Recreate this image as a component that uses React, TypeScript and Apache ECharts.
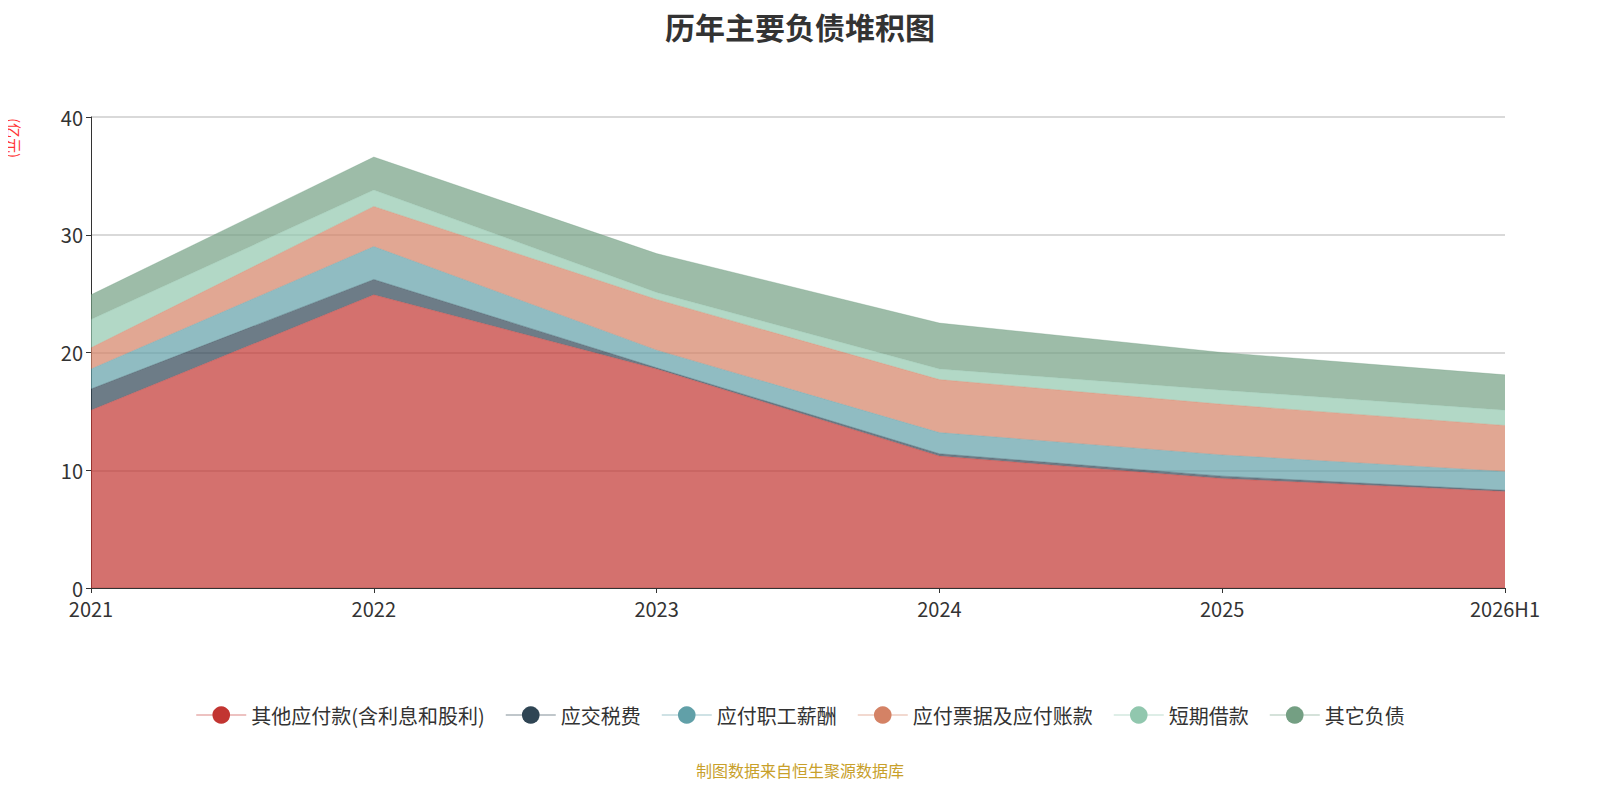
import React, { useEffect, useRef } from 'react';
import * as echarts from 'echarts';

const years = ['2021', '2022', '2023', '2024', '2025', '2026H1'];
const seriesNames = ['其他应付款(含利息和股利)', '应交税费', '应付职工薪酬', '应付票据及应付账款', '短期借款', '其它负债'];
const colors = ['#c23531', '#2f4554', '#61a0a8', '#d48265', '#91c7ae', '#749f83'];
const otherPayables = [15.1, 24.9, 18.6, 11.2, 9.3, 8.2];
const taxes = [1.8, 1.3, 0.1, 0.2, 0.2, 0.1];
const salaries = [1.7, 2.8, 1.5, 1.8, 1.8, 1.6];
const notesPayable = [1.8, 3.4, 4.3, 4.5, 4.3, 3.9];
const shortLoans = [2.4, 1.4, 0.6, 0.9, 1.2, 1.3];
const otherLiabilities = [2.1, 2.8, 3.3, 3.9, 3.2, 3.0];
const allData = [otherPayables, taxes, salaries, notesPayable, shortLoans, otherLiabilities];

const FONT = '"Noto Sans CJK SC", "Noto Sans", sans-serif';

const App: React.FC = () => {
  const ref = useRef<HTMLDivElement>(null);

  useEffect(() => {
    if (!ref.current) return;
    const chart = echarts.init(ref.current, null, { renderer: 'svg' });
    chart.setOption({
      animation: false,
      color: colors,
      textStyle: { fontFamily: FONT },
      title: {
        text: '历年主要负债堆积图',
        left: 'center',
        top: -2,
        textStyle: { fontSize: 30, fontWeight: 'bold', color: '#333', fontFamily: FONT },
      },
      grid: { left: 83, right: 87, top: 109, bottom: 204 },
      legend: {
        top: 692,
        itemWidth: 50,
        itemHeight: 22,
        itemGap: 20,
        textStyle: { fontSize: 20, color: '#333', fontFamily: FONT },
        data: seriesNames,
      },
      xAxis: {
        type: 'category',
        data: years,
        boundaryGap: false,
        axisLine: { lineStyle: { color: '#333' } },
        axisTick: { lineStyle: { color: '#333' } },
        axisLabel: { fontSize: 20, color: '#333', margin: 10 },
      },
      yAxis: {
        type: 'value',
        min: 0,
        max: 40,
        interval: 10,
        axisLine: { show: true, lineStyle: { color: '#333' } },
        axisTick: { show: true, lineStyle: { color: '#333' } },
        axisLabel: { fontSize: 20, color: '#333' },
        splitLine: { lineStyle: { color: '#ccc', width: 1.5 } },
      },
      graphic: [
        {
          type: 'text',
          x: 14,
          y: 110,
          rotation: -Math.PI / 2,
          style: { text: '(亿元)', fill: '#ff3333', fontSize: 15, fontFamily: FONT },
        },
        {
          type: 'text',
          left: 'center',
          top: 754,
          style: { text: '制图数据来自恒生聚源数据库', fill: '#c8a02a', fontSize: 16, fontFamily: FONT },
        },
      ],
      series: seriesNames.map((name, i) => ({
        name,
        type: 'line',
        stack: 'total',
        data: allData[i],
        showSymbol: false,
        symbol: 'circle',
        symbolSize: 22,
        lineStyle: { width: 1, opacity: 0.3 },
        areaStyle: { opacity: 0.7 },
      })),
    });
    return () => chart.dispose();
  }, []);

  return <div ref={ref} style={{ width: 1584, height: 784 }} />;
};

export default App;
